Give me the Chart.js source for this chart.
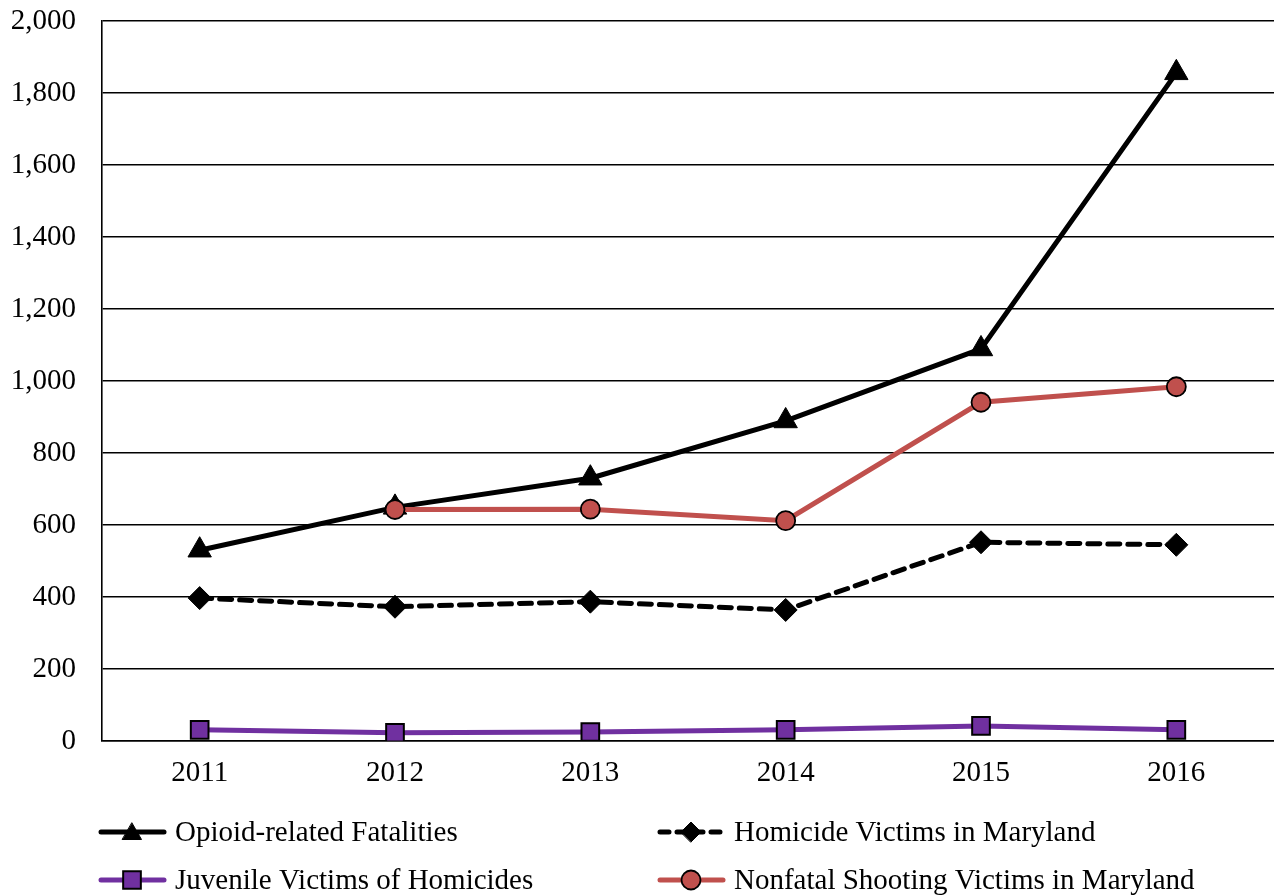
<!DOCTYPE html>
<html>
<head>
<meta charset="utf-8">
<script src="https://cdn.jsdelivr.net/npm/chart.js@4/dist/chart.umd.min.js"></script>
<style>
  html, body { margin: 0; padding: 0; background: #fff; overflow: hidden; }
  #wrap { width: 1274px; height: 896px; position: relative; }
  canvas { display: block; }
</style>
</head>
<body>
<div id="wrap"><canvas id="c" width="1274" height="896"></canvas></div>
<script>
const years = ['2011', '2012', '2013', '2014', '2015', '2016'];
const opioidFatalities = [530, 649, 730, 889, 1089, 1856];
const homicideVictims = [397, 373, 387, 364, 552, 545];
const juvenileVictims = [31, 23, 25, 31, 42, 31];
const nonfatalShooting = [null, 643, 644, 612, 941, 984];
const yTicks = { min: 0, max: 2000, step: 200 };

const FONT = "'Liberation Serif', 'Times New Roman', Times, serif";
const FS = 29;
Chart.defaults.font.family = FONT;
Chart.defaults.font.size = FS;
Chart.defaults.color = '#000';

const datasets = [
  {
    label: 'Opioid-related Fatalities', data: opioidFatalities,
    borderColor: '#000', backgroundColor: '#000', borderWidth: 5,
    pointStyle: 'triangle', pointRadius: 13.5, pointBackgroundColor: '#000',
    pointBorderColor: '#000', pointBorderWidth: 1, order: 3
  },
  {
    label: 'Homicide Victims in Maryland', data: homicideVictims,
    borderColor: '#000', backgroundColor: '#000', borderWidth: 5,
    borderDash: [12, 8], borderCapStyle: 'round',
    pointStyle: 'rectRot', pointRadius: 11.5, pointBackgroundColor: '#000',
    pointBorderColor: '#000', pointBorderWidth: 1, order: 2
  },
  {
    label: 'Juvenile Victims of Homicides', data: juvenileVictims,
    borderColor: '#7030A0', backgroundColor: '#7030A0', borderWidth: 5,
    pointStyle: 'rect', pointRadius: 12.5, pointBackgroundColor: '#7030A0',
    pointBorderColor: '#000', pointBorderWidth: 2, order: 1
  },
  {
    label: 'Nonfatal Shooting Victims in Maryland', data: nonfatalShooting,
    borderColor: '#C0504D', backgroundColor: '#C0504D', borderWidth: 5,
    pointStyle: 'circle', pointRadius: 9.5, pointBackgroundColor: '#C0504D',
    pointBorderColor: '#000', pointBorderWidth: 1.8, order: 0
  }
];

const legendPlugin = {
  id: 'customLegend',
  afterDraw(chart) {
    const ctx = chart.ctx;
    const items = [
      { ds: datasets[0], x: 98, y: 832 },
      { ds: datasets[1], x: 657, y: 832 },
      { ds: datasets[2], x: 98, y: 880 },
      { ds: datasets[3], x: 657, y: 880 }
    ];
    ctx.save();
    items.forEach(it => {
      const d = it.ds;
      ctx.beginPath();
      ctx.strokeStyle = d.borderColor;
      ctx.lineWidth = d.borderWidth;
      ctx.lineCap = 'round';
      ctx.setLineDash(d.borderDash ? [9, 8] : []);
      ctx.moveTo(it.x + 3, it.y);
      ctx.lineTo(it.x + 66, it.y);
      ctx.stroke();
      ctx.setLineDash([]);
      ctx.fillStyle = d.pointBackgroundColor;
      ctx.strokeStyle = d.pointBorderColor;
      ctx.lineWidth = d.pointBorderWidth;
      Chart.helpers.drawPoint(ctx, {
        pointStyle: d.pointStyle,
        radius: d.pointStyle === 'triangle' ? 11 : (d.pointStyle === 'rectRot' ? 10 : d.pointRadius),
        borderWidth: d.pointBorderWidth,
        rotation: 0
      }, it.x + 34, it.y + (d.pointStyle === 'triangle' ? 2 : 0));
      ctx.fillStyle = '#000';
      ctx.font = FS + 'px ' + FONT;
      ctx.textBaseline = 'middle';
      ctx.textAlign = 'left';
      ctx.fillText(d.label, it.x + 77, it.y + 1);
    });
    ctx.restore();
  }
};

new Chart(document.getElementById('c'), {
  type: 'line',
  data: { labels: years, datasets: datasets },
  plugins: [legendPlugin],
  options: {
    responsive: false,
    animation: false,
    devicePixelRatio: 1,
    layout: { autoPadding: false, padding: { top: 21, right: 0, left: 0, bottom: 0 } },
    plugins: { legend: { display: false }, tooltip: { enabled: false } },
    elements: { line: { tension: 0 } },
    scales: {
      x: {
        offset: true,
        grid: { display: false, drawTicks: false },
        border: { display: true, color: '#000', width: 1.6 },
        ticks: { padding: 15, font: { size: FS }, color: '#000', maxRotation: 0 },
        afterFit(s) { s.height = 155; s.paddingLeft = 0; s.paddingRight = 0; }
      },
      y: {
        min: yTicks.min, max: yTicks.max,
        grid: { color: '#000', lineWidth: 1.5, drawTicks: false },
        border: { display: true, color: '#000', width: 1.6 },
        ticks: {
          stepSize: yTicks.step, padding: 26, font: { size: FS }, color: '#000',
          callback: v => v.toLocaleString('en-US')
        },
        afterFit(s) { s.width = 102; s.paddingTop = 0; s.paddingBottom = 0; }
      }
    }
  }
});
</script>
</body>
</html>
